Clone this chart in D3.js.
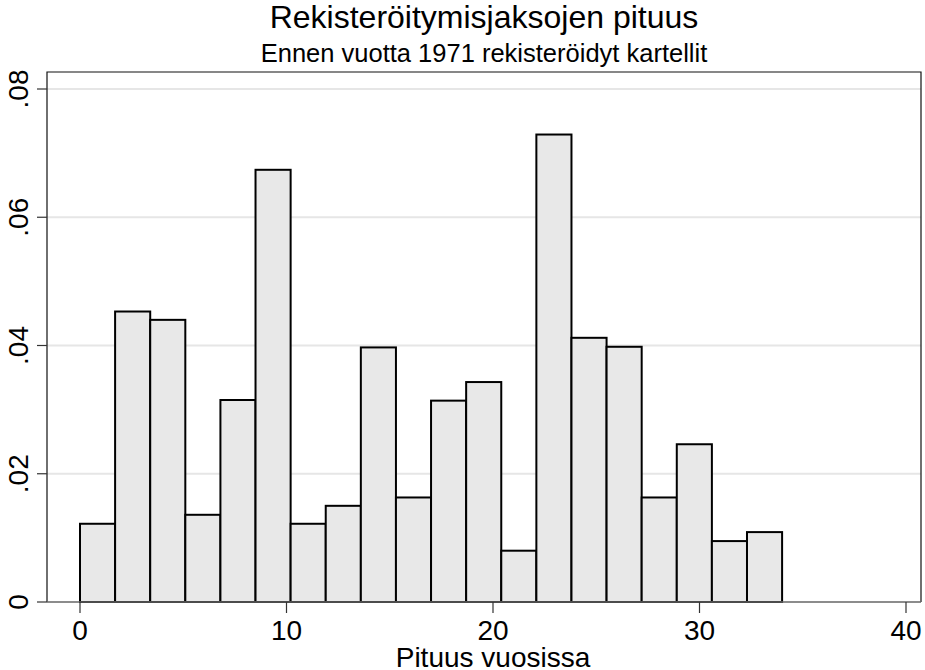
<!DOCTYPE html>
<html>
<head>
<meta charset="utf-8">
<script src="https://cdn.jsdelivr.net/npm/d3@7"></script>
<style>
  body { margin: 0; background: #fff; }
  text { font-family: "Liberation Sans", Arial, sans-serif; fill: #000; }
</style>
</head>
<body>
<script>
var w = 925;
var h = 670;

// histogram bins, width 1.7 years, starting at 0
var binStart = 0;
var binWidth = 1.7;
var density = [0.0122, 0.0453, 0.0440, 0.0136, 0.0315, 0.0674, 0.0122, 0.0150, 0.0397, 0.0163,
               0.0314, 0.0343, 0.0080, 0.0729, 0.0412, 0.0398, 0.0163, 0.0246, 0.0095, 0.0109];
var xTicks = [0, 10, 20, 30, 40];
var yTicks = [0, 0.02, 0.04, 0.06, 0.08];
var yTickLabels = ["0", ".02", ".04", ".06", ".08"];

var title = "Rekisteröitymisjaksojen pituus";
var subtitle = "Ennen vuotta 1971 rekisteröidyt kartellit";
var xTitle = "Pituus vuosissa";

// plot box
var box = {left: 47, right: 921, top: 72, bottom: 602};

var x = d3.scaleLinear().domain([0, 40]).range([80, 906]);
var y = d3.scaleLinear().domain([0, 0.08]).range([box.bottom, 89]);

var svg = d3.select("body")
            .append("svg")
              .attr("width", w)
              .attr("height", h);

// grid
svg.selectAll(".grid")
    .data(yTicks.slice(1))
    .enter()
    .append("line")
      .attr("x1", box.left)
      .attr("x2", box.right)
      .attr("y1", function(d) { return y(d); })
      .attr("y2", function(d) { return y(d); })
      .attr("stroke", "#e6e6e6")
      .attr("stroke-width", 2);

// bars
svg.selectAll(".bar")
    .data(density)
    .enter()
    .append("rect")
      .attr("x", function(d, i) { return x(binStart + i * binWidth); })
      .attr("width", function(d, i) { return x(binStart + (i + 1) * binWidth) - x(binStart + i * binWidth); })
      .attr("y", function(d) { return y(d); })
      .attr("height", function(d) { return y(0) - y(d); })
      .attr("fill", "#e8e8e8")
      .attr("stroke", "#000")
      .attr("stroke-width", 2);

// plot box
svg.append("path")
    .attr("d", "M" + box.left + "," + box.bottom + "V" + box.top + "H" + box.right + "V" + box.bottom)
    .attr("fill", "none")
    .attr("stroke", "#111")
    .attr("stroke-width", 1.2);
svg.append("line")
    .attr("x1", box.left).attr("x2", box.right)
    .attr("y1", box.bottom).attr("y2", box.bottom)
    .attr("stroke", "#666")
    .attr("stroke-width", 1.5);

// x axis ticks
var xg = svg.append("g");
xg.selectAll("line")
    .data(xTicks)
    .enter()
    .append("line")
      .attr("x1", function(d) { return x(d); })
      .attr("x2", function(d) { return x(d); })
      .attr("y1", box.bottom)
      .attr("y2", box.bottom + 11)
      .attr("stroke", "#333")
      .attr("stroke-width", 1.2);
xg.selectAll("text")
    .data(xTicks)
    .enter()
    .append("text")
      .attr("x", function(d) { return x(d); })
      .attr("y", 640)
      .attr("text-anchor", "middle")
      .style("font-size", "28px")
      .text(function(d) { return d; });

// y axis ticks
var yg = svg.append("g");
yg.selectAll("line")
    .data(yTicks)
    .enter()
    .append("line")
      .attr("x1", box.left - 10)
      .attr("x2", box.left)
      .attr("y1", function(d) { return y(d); })
      .attr("y2", function(d) { return y(d); })
      .attr("stroke", "#333")
      .attr("stroke-width", 1.2);
yg.selectAll("text")
    .data(yTicks)
    .enter()
    .append("text")
      .attr("transform", function(d) { return "translate(28," + y(d) + ") rotate(-90)"; })
      .attr("text-anchor", "middle")
      .style("font-size", "28px")
      .text(function(d, i) { return yTickLabels[i]; });

// titles
svg.append("text")
    .attr("x", (box.left + box.right) / 2)
    .attr("y", 28)
    .attr("text-anchor", "middle")
    .style("font-size", "32px")
    .text(title);
svg.append("text")
    .attr("x", (box.left + box.right) / 2)
    .attr("y", 62)
    .attr("text-anchor", "middle")
    .style("font-size", "25.5px")
    .text(subtitle);
svg.append("text")
    .attr("x", x(20))
    .attr("y", 667)
    .attr("text-anchor", "middle")
    .style("font-size", "28px")
    .text(xTitle);
</script>
</body>
</html>
